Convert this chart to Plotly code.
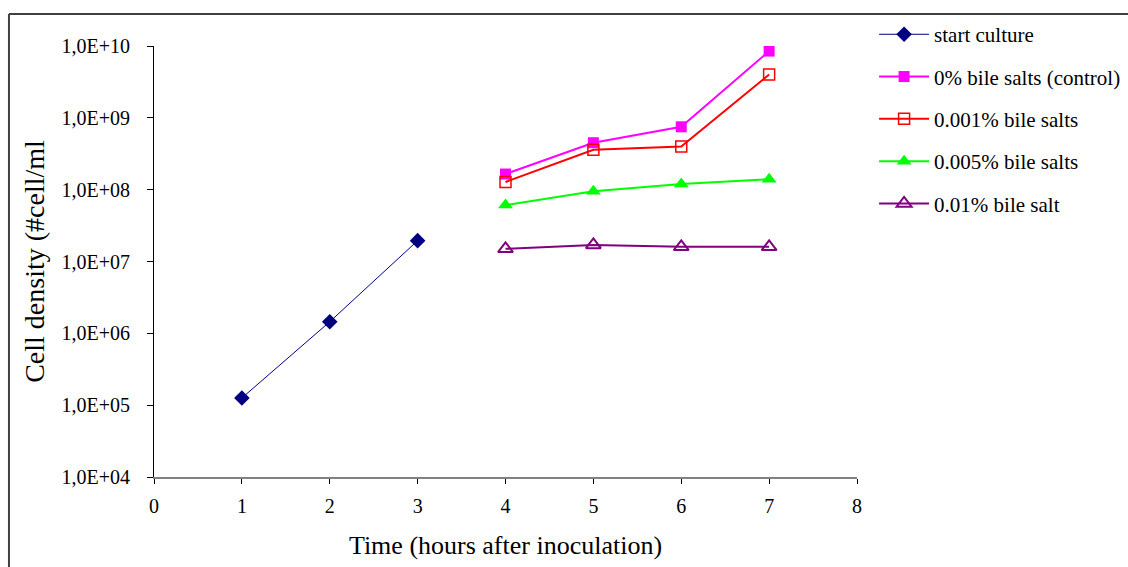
import plotly.graph_objects as go

# Sampling times (hours after inoculation)
hours_start = [1, 2, 3]
hours_bile = [4, 5, 6, 7]

# Cell densities (#cells/ml)
start_culture = [1.26e5, 1.45e6, 1.95e7]
bile_0 = [1.65e8, 4.5e8, 7.5e8, 8.5e9]
bile_0001 = [1.28e8, 3.6e8, 4.0e8, 4.0e9]
bile_0005 = [6.1e7, 9.5e7, 1.2e8, 1.4e8]
bile_001 = [1.5e7, 1.7e7, 1.6e7, 1.6e7]

series_names = [
    "start culture",
    "0% bile salts (control)",
    "0.001% bile salts",
    "0.005% bile salts",
    "0.01% bile salt",
]

y_tick_values = [1e4, 1e5, 1e6, 1e7, 1e8, 1e9, 1e10]
y_tick_labels = ["1,0E+04", "1,0E+05", "1,0E+06", "1,0E+07", "1,0E+08", "1,0E+09", "1,0E+10"]
x_tick_values = [0, 1, 2, 3, 4, 5, 6, 7, 8]

FONT = "Liberation Serif, Times New Roman, serif"

fig = go.Figure()

styles = [
    dict(x=hours_start, y=start_culture, color="#000080", width=1,
         marker=dict(symbol="diamond", size=12)),
    dict(x=hours_bile, y=bile_0, color="#FF00FF", width=2,
         marker=dict(symbol="square", size=11)),
    dict(x=hours_bile, y=bile_0001, color="#FF0000", width=2,
         marker=dict(symbol="square-open", size=11, line=dict(width=1.5))),
    dict(x=hours_bile, y=bile_0005, color="#00FF00", width=2,
         marker=dict(symbol="triangle-up", size=13)),
    dict(x=hours_bile, y=bile_001, color="#800080", width=2,
         marker=dict(symbol="triangle-up-open", size=13, line=dict(width=2))),
]

for name, s in zip(series_names, styles):
    m = dict(s["marker"])
    m["color"] = s["color"]
    fig.add_trace(go.Scatter(
        x=s["x"], y=s["y"], name=name, mode="lines+markers",
        line=dict(color=s["color"], width=s["width"]),
        marker=m, legendgroup=name,
    ))

fig.update_layout(
    width=1128, height=567,
    margin=dict(l=154, r=271, t=46, b=90, autoexpand=False),
    paper_bgcolor="white", plot_bgcolor="white",
    font=dict(family=FONT, color="black", size=20),
    showlegend=True,
    legend=dict(
        x=1.0243, y=1.074, xanchor="left", yanchor="top",
        font=dict(family=FONT, size=21, color="black"),
        tracegroupgap=12, itemwidth=50,
        bgcolor="rgba(0,0,0,0)",
    ),
    xaxis=dict(
        range=[0, 8], tickvals=x_tick_values,
        showgrid=False, zeroline=False,
        showline=True, linecolor="#808080", linewidth=2,
        ticks="outside", ticklen=5, tickcolor="black", tickwidth=1,
        ticklabelstandoff=5,
        tickfont=dict(family=FONT, size=20),
        title=dict(text="Time (hours after inoculation)",
                   font=dict(family=FONT, size=26), standoff=20),
    ),
    yaxis=dict(
        type="log", range=[4, 10],
        tickvals=y_tick_values, ticktext=y_tick_labels,
        showgrid=False, zeroline=False,
        showline=True, linecolor="black", linewidth=1,
        ticks="outside", ticklen=6, tickcolor="black", tickwidth=1,
        ticklabelstandoff=13,
        tickfont=dict(family=FONT, size=20),
        title=dict(text="Cell density (#cell/ml",
                   font=dict(family=FONT, size=28), standoff=8),
    ),
)

# Outer chart frame (top and left edges)
fig.add_shape(type="line", xref="paper", yref="paper",
              x0=-0.2063, y0=1.0742, x1=1.3855, y1=1.0742,
              line=dict(color="#404040", width=2))
fig.add_shape(type="line", xref="paper", yref="paper",
              x0=-0.2063, y0=1.0742, x1=-0.2063, y1=-0.21,
              line=dict(color="#404040", width=2))

fig.write_html("out.html")
